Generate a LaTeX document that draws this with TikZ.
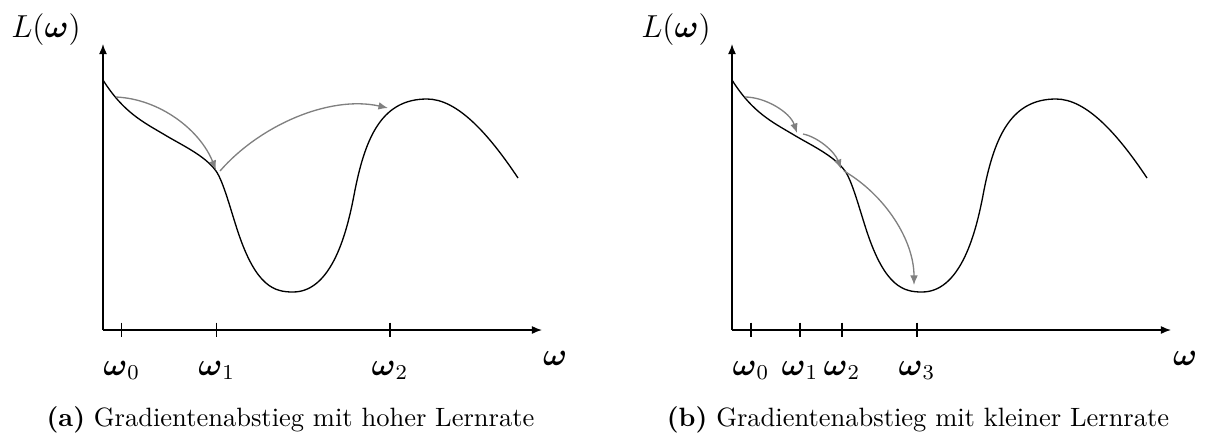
\documentclass[tikz,border=0pt]{standalone}
\usepackage{amsmath,amssymb}
\usetikzlibrary{arrows.meta}
\tikzset{
  axisline/.style={line width=0.5pt, black, -{Latex[length=3.8pt,width=3pt]}},
  curvestyle/.style={line width=0.5pt, black},
  steparrow/.style={gray, line width=0.5pt, -{Latex[length=3.6pt,width=2.9pt]}},
  tickmark/.style={line width=0.4pt, black},
  ticklabel/.style={anchor=base, inner sep=0pt, font=\fontsize{12}{14}\selectfont},
  axlabel/.style={anchor=base, inner sep=0pt, font=\fontsize{12}{14}\selectfont},
  capt/.style={anchor=base, inner sep=0pt, font=\fontsize{10}{12}\selectfont},
  losscurve/.pic={
    \draw[curvestyle] (103,80)
      .. controls (123.7,113) and (144.3,122.6) .. (165,135)
      .. controls (182,145.2) and (205,155.6) .. (216,171)
      .. controls (223.3,181.2) and (230.7,210) .. (238,232)
      .. controls (256.3,287) and (274.7,292) .. (293,292)
      .. controls (335,292) and (349,222) .. (355,190)
      .. controls (366,135) and (383,99) .. (427,99)
      .. controls (457,99) and (488,133) .. (518,178);
  }
}
\begin{document}
\begin{tikzpicture}[x=0.3774pt, y=-0.3774pt]
\useasboundingbox (0,0) rectangle (1205,434);

% ---------- panel (a)
\begin{scope}
  \coordinate (aO) at (103,330);
  \coordinate (aY) at (103,44);
  \coordinate (aX) at (542,330);
  \draw[axisline] (aO) -- (aY);
  \draw[axisline] (aO) -- (aX);
  \pic at (0,0) {losscurve};
  \foreach \n/\x in {0/121.7,1/216.7,2/390}{
    \draw[tickmark] (\x,322.7) coordinate (at\n) -- (\x,337.3);
    \node[ticklabel] (al\n) at (\x,375) {$\boldsymbol{\omega}_{\n}$};
  }
  \node[axlabel] (aw) at (555,365) {$\boldsymbol{\omega}$};
  \node[axlabel] (aL) at (46,37) {$L(\boldsymbol{\omega})$};
  \coordinate (ap0) at (116,97);
  \coordinate (ap1) at (216,170);
  \coordinate (ap1s) at (220,171);
  \coordinate (ap2) at (388,108);
  \draw[steparrow] (ap0) .. controls (160,99) and (200,130) .. (ap1);
  \draw[steparrow] (ap1s) .. controls (260,125) and (330,95) .. (ap2);
  \node[capt] (acap) at (290.5,426) {\textbf{(a)} Gradientenabstieg mit hoher Lernrate};
\end{scope}

% ---------- panel (b)
\begin{scope}
  \coordinate (bO) at (732,330);
  \coordinate (bY) at (732,44);
  \coordinate (bX) at (1171,330);
  \draw[axisline] (bO) -- (bY);
  \draw[axisline] (bO) -- (bX);
  \pic at (629,0) {losscurve};
  \foreach \n/\x in {0/751,1/800,2/842,3/917}{
    \draw[tickmark] (\x,322.7) coordinate (bt\n) -- (\x,337.3);
    \node[ticklabel] (bl\n) at (\x,375) {$\boldsymbol{\omega}_{\n}$};
  }
  \node[axlabel] (bw) at (1185,365) {$\boldsymbol{\omega}$};
  \node[axlabel] (bL) at (676,37) {$L(\boldsymbol{\omega})$};
  \coordinate (bp0) at (745,97);
  \coordinate (bp1) at (797,133);
  \coordinate (bp1s) at (803,134);
  \coordinate (bp2) at (841,169);
  \coordinate (bp2s) at (844,171);
  \coordinate (bp3) at (914,285);
  \draw[steparrow] (bp0) .. controls (765,97) and (790,112) .. (bp1);
  \draw[steparrow] (bp1s) .. controls (818,137) and (835,152) .. (bp2);
  \draw[steparrow] (bp2s) .. controls (885,195) and (914,240) .. (bp3);
  \node[capt] (bcap) at (918,426) {\textbf{(b)} Gradientenabstieg mit kleiner Lernrate};
\end{scope}
\end{tikzpicture}
\end{document}
